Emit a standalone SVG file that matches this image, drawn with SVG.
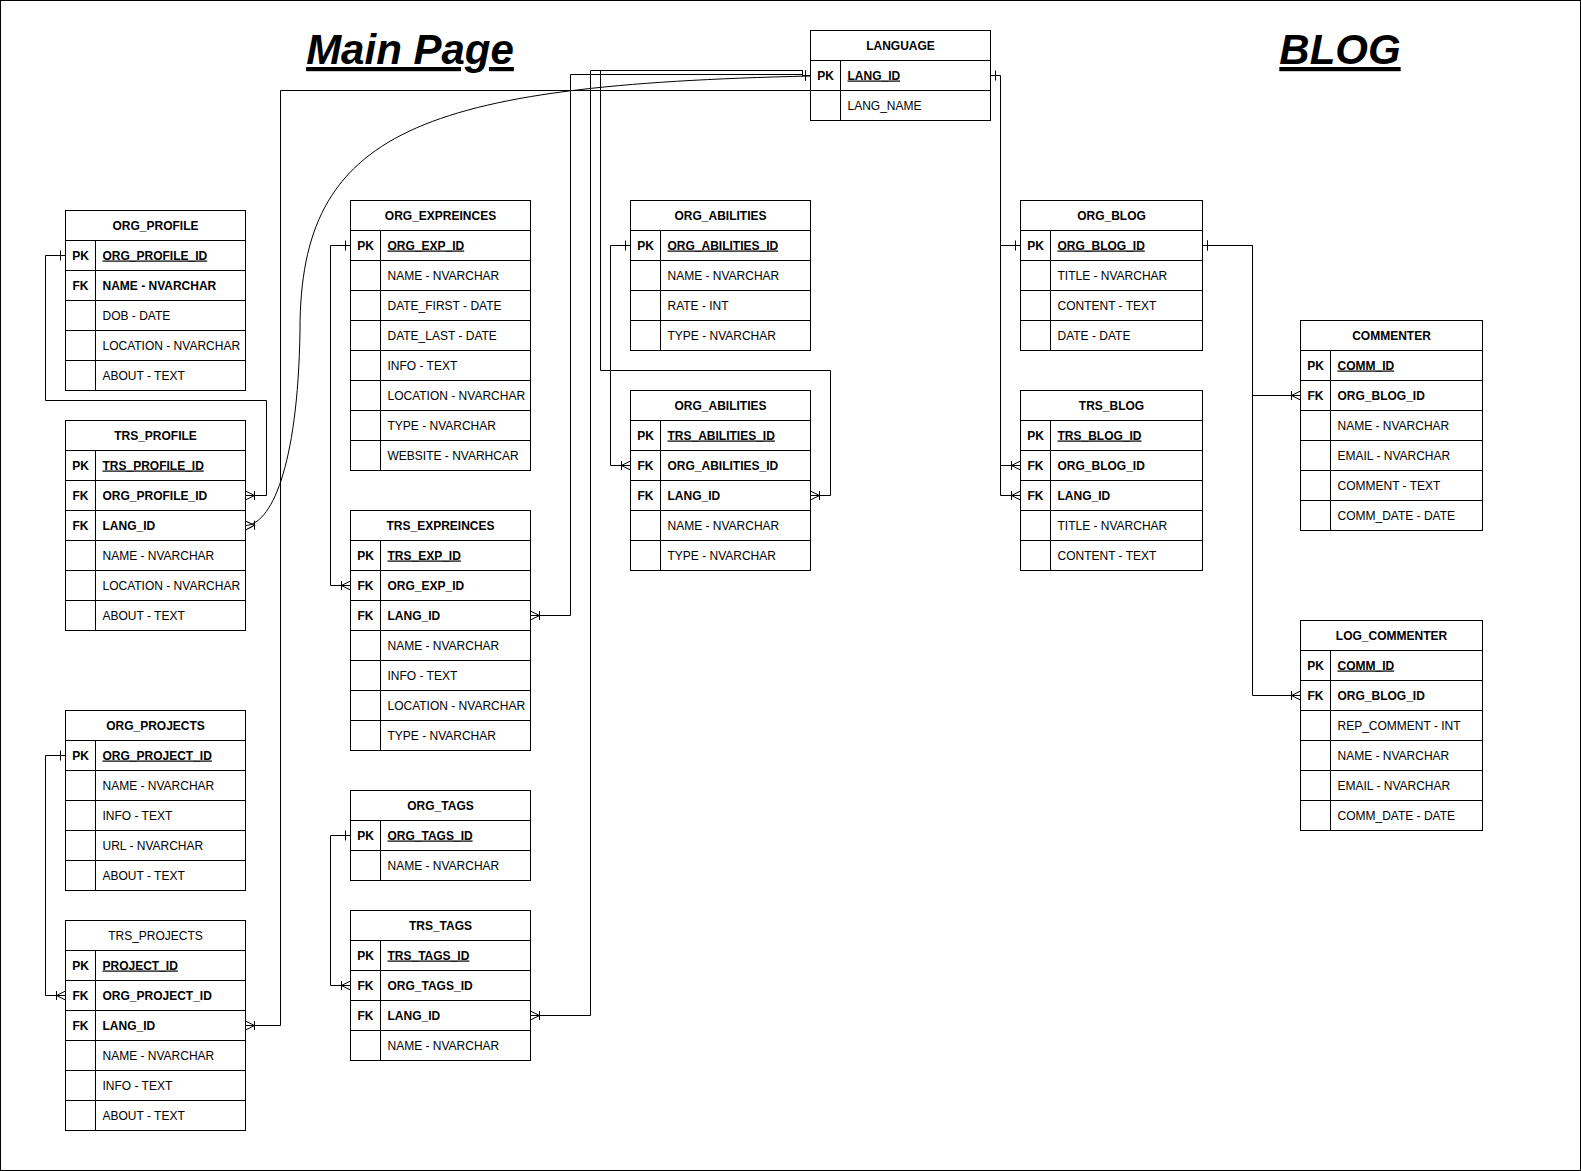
<svg xmlns="http://www.w3.org/2000/svg" width="1581" height="1171" viewBox="0 0 1581 1171">
<style>
.box{fill:#fff;stroke:#000;stroke-width:1}
.ln{fill:none;stroke:#000;stroke-width:1}
text{font-family:"Liberation Sans",Arial,Helvetica,sans-serif;font-size:12px;fill:#000}
.h{font-weight:bold;text-anchor:middle}
.hn{text-anchor:middle}
.k{font-weight:bold;text-anchor:middle}
.b{font-weight:bold}
.pk{font-weight:bold;text-decoration:underline}
.title{font-size:42px;font-weight:bold;font-style:italic;text-decoration:underline;text-anchor:middle}
.edge{fill:none;stroke:#000;stroke-width:1}
</style>
<defs>
<marker id="one" viewBox="0 0 20 20" refX="20" refY="10" markerWidth="20" markerHeight="20" markerUnits="userSpaceOnUse" orient="auto-start-reverse"><path d="M15,5V15" fill="none" stroke="#000" stroke-width="1"/></marker>
<marker id="many" viewBox="0 0 20 20" refX="20" refY="10" markerWidth="20" markerHeight="20" markerUnits="userSpaceOnUse" orient="auto-start-reverse"><path d="M20,5.5L11,10L20,14.5M11,5.5V14.5" fill="none" stroke="#000" stroke-width="1"/></marker>
</defs>
<rect x="0.5" y="0.5" width="1580" height="1170" fill="#fff" stroke="#000"/>
<text class="title" x="410" y="64">Main Page</text>
<text class="title" x="1340" y="64">BLOG</text>

<g id="connectors">
<path class="edge" d="M65.5,255.5H45.5V400.5H266.5V495.5H245.5" marker-start="url(#one)" marker-end="url(#many)"/>
<path class="edge" d="M245.5,525.5C270,525 298,470 300,330C300,130 420,85 810.5,76" marker-start="url(#many)"/>
<path class="edge" d="M245.5,1025.5H280.5V90.5H810.5" marker-start="url(#many)"/>
<path class="edge" d="M65.5,755.5H45.5V995.5H65.5" marker-start="url(#one)" marker-end="url(#many)"/>
<path class="edge" d="M350.5,245.5H330.5V585.5H350.5" marker-start="url(#one)" marker-end="url(#many)"/>
<path class="edge" d="M530.5,615.5H570.5V74.5H802.5V75.5H810.5" marker-start="url(#many)" marker-end="url(#one)"/>
<path class="edge" d="M350.5,835.5H330.5V985.5H350.5" marker-start="url(#one)" marker-end="url(#many)"/>
<path class="edge" d="M530.5,1015.5H590.5V70.5H802.5V75.5H810.5" marker-start="url(#many)" marker-end="url(#one)"/>
<path class="edge" d="M630.5,245.5H610.5V465.5H630.5" marker-start="url(#one)" marker-end="url(#many)"/>
<path class="edge" d="M810.5,495.5H830.5V370.5H600.5V70.5H802.5V75.5H810.5" marker-start="url(#many)" marker-end="url(#one)"/>
<path class="edge" d="M990.5,75.5H1000.5V495.5H1020.5" marker-start="url(#one)" marker-end="url(#many)"/>
<path class="edge" d="M1020.5,245.5H1000.5V465.5H1020.5" marker-start="url(#one)" marker-end="url(#many)"/>
<path class="edge" d="M1202.5,245.5H1252.5V395.5H1300.5" marker-start="url(#one)" marker-end="url(#many)"/>
<path class="edge" d="M1202.5,245.5H1252.5V695.5H1300.5" marker-start="url(#one)" marker-end="url(#many)"/>
</g>

<g id="LANGUAGE">
<rect class="box" x="810.5" y="30.5" width="180" height="90"/>
<path class="ln" d="M810.5,60.5h180M810.5,90.5h180M840.5,60.5V120.5"/>
<text class="h" x="900.5" y="49.5">LANGUAGE</text>
<text class="k" x="825.5" y="79.5">PK</text><text class="pk" x="847.5" y="79.5">LANG_ID</text>
<text x="847.5" y="109.5">LANG_NAME</text>
</g>

<g id="ORG_PROFILE">
<rect class="box" x="65.5" y="210.5" width="180" height="180"/>
<path class="ln" d="M65.5,240.5h180M65.5,270.5h180M65.5,300.5h180M65.5,330.5h180M65.5,360.5h180M95.5,240.5V390.5"/>
<text class="h" x="155.5" y="229.5">ORG_PROFILE</text>
<text class="k" x="80.5" y="259.5">PK</text><text class="pk" x="102.5" y="259.5">ORG_PROFILE_ID</text>
<text class="k" x="80.5" y="289.5">FK</text><text class="b" x="102.5" y="289.5">NAME - NVARCHAR</text>
<text x="102.5" y="319.5">DOB - DATE</text>
<text x="102.5" y="349.5">LOCATION - NVARCHAR</text>
<text x="102.5" y="379.5">ABOUT - TEXT</text>
</g>

<g id="TRS_PROFILE">
<rect class="box" x="65.5" y="420.5" width="180" height="210"/>
<path class="ln" d="M65.5,450.5h180M65.5,480.5h180M65.5,510.5h180M65.5,540.5h180M65.5,570.5h180M65.5,600.5h180M95.5,450.5V630.5"/>
<text class="h" x="155.5" y="439.5">TRS_PROFILE</text>
<text class="k" x="80.5" y="469.5">PK</text><text class="pk" x="102.5" y="469.5">TRS_PROFILE_ID</text>
<text class="k" x="80.5" y="499.5">FK</text><text class="b" x="102.5" y="499.5">ORG_PROFILE_ID</text>
<text class="k" x="80.5" y="529.5">FK</text><text class="b" x="102.5" y="529.5">LANG_ID</text>
<text x="102.5" y="559.5">NAME - NVARCHAR</text>
<text x="102.5" y="589.5">LOCATION - NVARCHAR</text>
<text x="102.5" y="619.5">ABOUT - TEXT</text>
</g>

<g id="ORG_PROJECTS">
<rect class="box" x="65.5" y="710.5" width="180" height="180"/>
<path class="ln" d="M65.5,740.5h180M65.5,770.5h180M65.5,800.5h180M65.5,830.5h180M65.5,860.5h180M95.5,740.5V890.5"/>
<text class="h" x="155.5" y="729.5">ORG_PROJECTS</text>
<text class="k" x="80.5" y="759.5">PK</text><text class="pk" x="102.5" y="759.5">ORG_PROJECT_ID</text>
<text x="102.5" y="789.5">NAME - NVARCHAR</text>
<text x="102.5" y="819.5">INFO - TEXT</text>
<text x="102.5" y="849.5">URL - NVARCHAR</text>
<text x="102.5" y="879.5">ABOUT - TEXT</text>
</g>

<g id="TRS_PROJECTS">
<rect class="box" x="65.5" y="920.5" width="180" height="210"/>
<path class="ln" d="M65.5,950.5h180M65.5,980.5h180M65.5,1010.5h180M65.5,1040.5h180M65.5,1070.5h180M65.5,1100.5h180M95.5,950.5V1130.5"/>
<text class="hn" x="155.5" y="939.5">TRS_PROJECTS</text>
<text class="k" x="80.5" y="969.5">PK</text><text class="pk" x="102.5" y="969.5">PROJECT_ID</text>
<text class="k" x="80.5" y="999.5">FK</text><text class="b" x="102.5" y="999.5">ORG_PROJECT_ID</text>
<text class="k" x="80.5" y="1029.5">FK</text><text class="b" x="102.5" y="1029.5">LANG_ID</text>
<text x="102.5" y="1059.5">NAME - NVARCHAR</text>
<text x="102.5" y="1089.5">INFO - TEXT</text>
<text x="102.5" y="1119.5">ABOUT - TEXT</text>
</g>

<g id="ORG_EXPREINCES">
<rect class="box" x="350.5" y="200.5" width="180" height="270"/>
<path class="ln" d="M350.5,230.5h180M350.5,260.5h180M350.5,290.5h180M350.5,320.5h180M350.5,350.5h180M350.5,380.5h180M350.5,410.5h180M350.5,440.5h180M380.5,230.5V470.5"/>
<text class="h" x="440.5" y="219.5">ORG_EXPREINCES</text>
<text class="k" x="365.5" y="249.5">PK</text><text class="pk" x="387.5" y="249.5">ORG_EXP_ID</text>
<text x="387.5" y="279.5">NAME - NVARCHAR</text>
<text x="387.5" y="309.5">DATE_FIRST - DATE</text>
<text x="387.5" y="339.5">DATE_LAST - DATE</text>
<text x="387.5" y="369.5">INFO - TEXT</text>
<text x="387.5" y="399.5">LOCATION - NVARCHAR</text>
<text x="387.5" y="429.5">TYPE - NVARCHAR</text>
<text x="387.5" y="459.5">WEBSITE - NVARHCAR</text>
</g>

<g id="TRS_EXPREINCES">
<rect class="box" x="350.5" y="510.5" width="180" height="240"/>
<path class="ln" d="M350.5,540.5h180M350.5,570.5h180M350.5,600.5h180M350.5,630.5h180M350.5,660.5h180M350.5,690.5h180M350.5,720.5h180M380.5,540.5V750.5"/>
<text class="h" x="440.5" y="529.5">TRS_EXPREINCES</text>
<text class="k" x="365.5" y="559.5">PK</text><text class="pk" x="387.5" y="559.5">TRS_EXP_ID</text>
<text class="k" x="365.5" y="589.5">FK</text><text class="b" x="387.5" y="589.5">ORG_EXP_ID</text>
<text class="k" x="365.5" y="619.5">FK</text><text class="b" x="387.5" y="619.5">LANG_ID</text>
<text x="387.5" y="649.5">NAME - NVARCHAR</text>
<text x="387.5" y="679.5">INFO - TEXT</text>
<text x="387.5" y="709.5">LOCATION - NVARCHAR</text>
<text x="387.5" y="739.5">TYPE - NVARCHAR</text>
</g>

<g id="ORG_TAGS">
<rect class="box" x="350.5" y="790.5" width="180" height="90"/>
<path class="ln" d="M350.5,820.5h180M350.5,850.5h180M380.5,820.5V880.5"/>
<text class="h" x="440.5" y="809.5">ORG_TAGS</text>
<text class="k" x="365.5" y="839.5">PK</text><text class="pk" x="387.5" y="839.5">ORG_TAGS_ID</text>
<text x="387.5" y="869.5">NAME - NVARCHAR</text>
</g>

<g id="TRS_TAGS">
<rect class="box" x="350.5" y="910.5" width="180" height="150"/>
<path class="ln" d="M350.5,940.5h180M350.5,970.5h180M350.5,1000.5h180M350.5,1030.5h180M380.5,940.5V1060.5"/>
<text class="h" x="440.5" y="929.5">TRS_TAGS</text>
<text class="k" x="365.5" y="959.5">PK</text><text class="pk" x="387.5" y="959.5">TRS_TAGS_ID</text>
<text class="k" x="365.5" y="989.5">FK</text><text class="b" x="387.5" y="989.5">ORG_TAGS_ID</text>
<text class="k" x="365.5" y="1019.5">FK</text><text class="b" x="387.5" y="1019.5">LANG_ID</text>
<text x="387.5" y="1049.5">NAME - NVARCHAR</text>
</g>

<g id="ORG_ABILITIES">
<rect class="box" x="630.5" y="200.5" width="180" height="150"/>
<path class="ln" d="M630.5,230.5h180M630.5,260.5h180M630.5,290.5h180M630.5,320.5h180M660.5,230.5V350.5"/>
<text class="h" x="720.5" y="219.5">ORG_ABILITIES</text>
<text class="k" x="645.5" y="249.5">PK</text><text class="pk" x="667.5" y="249.5">ORG_ABILITIES_ID</text>
<text x="667.5" y="279.5">NAME - NVARCHAR</text>
<text x="667.5" y="309.5">RATE - INT</text>
<text x="667.5" y="339.5">TYPE - NVARCHAR</text>
</g>

<g id="ORG_ABILITIES_2">
<rect class="box" x="630.5" y="390.5" width="180" height="180"/>
<path class="ln" d="M630.5,420.5h180M630.5,450.5h180M630.5,480.5h180M630.5,510.5h180M630.5,540.5h180M660.5,420.5V570.5"/>
<text class="h" x="720.5" y="409.5">ORG_ABILITIES</text>
<text class="k" x="645.5" y="439.5">PK</text><text class="pk" x="667.5" y="439.5">TRS_ABILITIES_ID</text>
<text class="k" x="645.5" y="469.5">FK</text><text class="b" x="667.5" y="469.5">ORG_ABILITIES_ID</text>
<text class="k" x="645.5" y="499.5">FK</text><text class="b" x="667.5" y="499.5">LANG_ID</text>
<text x="667.5" y="529.5">NAME - NVARCHAR</text>
<text x="667.5" y="559.5">TYPE - NVARCHAR</text>
</g>

<g id="ORG_BLOG">
<rect class="box" x="1020.5" y="200.5" width="182" height="150"/>
<path class="ln" d="M1020.5,230.5h182M1020.5,260.5h182M1020.5,290.5h182M1020.5,320.5h182M1050.5,230.5V350.5"/>
<text class="h" x="1111.5" y="219.5">ORG_BLOG</text>
<text class="k" x="1035.5" y="249.5">PK</text><text class="pk" x="1057.5" y="249.5">ORG_BLOG_ID</text>
<text x="1057.5" y="279.5">TITLE - NVARCHAR</text>
<text x="1057.5" y="309.5">CONTENT - TEXT</text>
<text x="1057.5" y="339.5">DATE - DATE</text>
</g>

<g id="TRS_BLOG">
<rect class="box" x="1020.5" y="390.5" width="182" height="180"/>
<path class="ln" d="M1020.5,420.5h182M1020.5,450.5h182M1020.5,480.5h182M1020.5,510.5h182M1020.5,540.5h182M1050.5,420.5V570.5"/>
<text class="h" x="1111.5" y="409.5">TRS_BLOG</text>
<text class="k" x="1035.5" y="439.5">PK</text><text class="pk" x="1057.5" y="439.5">TRS_BLOG_ID</text>
<text class="k" x="1035.5" y="469.5">FK</text><text class="b" x="1057.5" y="469.5">ORG_BLOG_ID</text>
<text class="k" x="1035.5" y="499.5">FK</text><text class="b" x="1057.5" y="499.5">LANG_ID</text>
<text x="1057.5" y="529.5">TITLE - NVARCHAR</text>
<text x="1057.5" y="559.5">CONTENT - TEXT</text>
</g>

<g id="COMMENTER">
<rect class="box" x="1300.5" y="320.5" width="182" height="210"/>
<path class="ln" d="M1300.5,350.5h182M1300.5,380.5h182M1300.5,410.5h182M1300.5,440.5h182M1300.5,470.5h182M1300.5,500.5h182M1330.5,350.5V530.5"/>
<text class="h" x="1391.5" y="339.5">COMMENTER</text>
<text class="k" x="1315.5" y="369.5">PK</text><text class="pk" x="1337.5" y="369.5">COMM_ID</text>
<text class="k" x="1315.5" y="399.5">FK</text><text class="b" x="1337.5" y="399.5">ORG_BLOG_ID</text>
<text x="1337.5" y="429.5">NAME - NVARCHAR</text>
<text x="1337.5" y="459.5">EMAIL - NVARCHAR</text>
<text x="1337.5" y="489.5">COMMENT - TEXT</text>
<text x="1337.5" y="519.5">COMM_DATE - DATE</text>
</g>

<g id="LOG_COMMENTER">
<rect class="box" x="1300.5" y="620.5" width="182" height="210"/>
<path class="ln" d="M1300.5,650.5h182M1300.5,680.5h182M1300.5,710.5h182M1300.5,740.5h182M1300.5,770.5h182M1300.5,800.5h182M1330.5,650.5V830.5"/>
<text class="h" x="1391.5" y="639.5">LOG_COMMENTER</text>
<text class="k" x="1315.5" y="669.5">PK</text><text class="pk" x="1337.5" y="669.5">COMM_ID</text>
<text class="k" x="1315.5" y="699.5">FK</text><text class="b" x="1337.5" y="699.5">ORG_BLOG_ID</text>
<text x="1337.5" y="729.5">REP_COMMENT - INT</text>
<text x="1337.5" y="759.5">NAME - NVARCHAR</text>
<text x="1337.5" y="789.5">EMAIL - NVARCHAR</text>
<text x="1337.5" y="819.5">COMM_DATE - DATE</text>
</g>
</svg>
